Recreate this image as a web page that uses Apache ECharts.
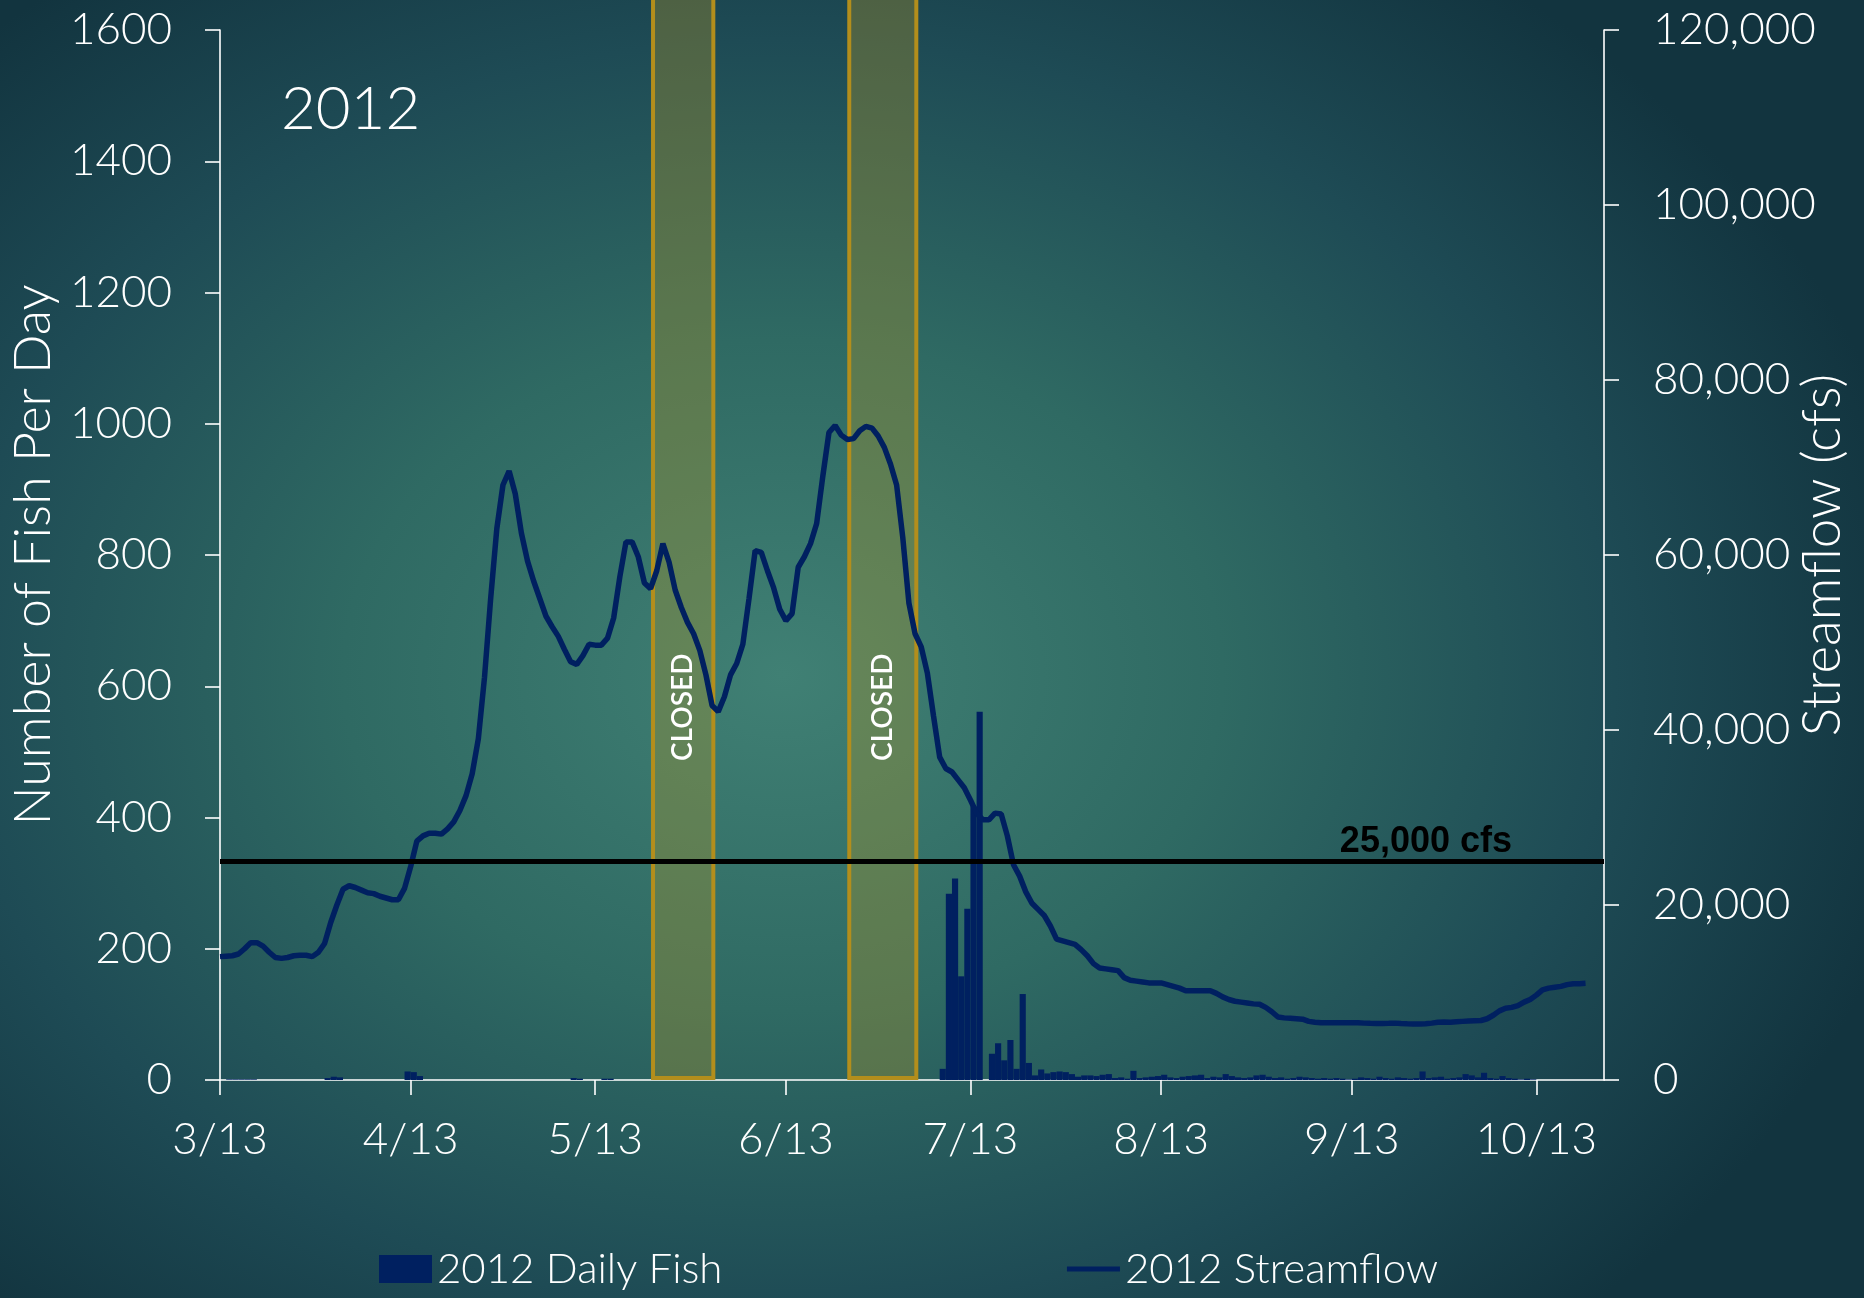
<!DOCTYPE html>
<html><head><meta charset="utf-8">
<script src="https://cdn.jsdelivr.net/npm/echarts@6/dist/echarts.min.js"></script>
<style>
html,body{margin:0;padding:0;width:1864px;height:1298px;overflow:hidden;background:#12343f;}
#c{width:1864px;height:1298px;background:radial-gradient(ellipse 62% 68% at 42% 52%, #408074 0%, #2f6a63 38%, #1e4b55 72%, #12343f 100%);}
</style></head><body><div id="c"></div>
<script>
// x positions are days counted from 3/13 (day 0)
const tickDays = [0, 31, 61, 92, 122, 153, 184, 214];
const tickLabels = ['3/13', '4/13', '5/13', '6/13', '7/13', '8/13', '9/13', '10/13'];

// 2012 Streamflow (cfs), one value per day starting 3/13
const streamflow = [
 14100,14150,14200,14400,15000,15700,15700,15300,14600,14000,
 13900,14000,14200,14250,14250,14100,14600,15600,18000,20000,
 21800,22200,22000,21700,21400,21300,21000,20800,20600,20600,
 21900,24400,27300,27900,28200,28200,28100,28700,29500,30800,
 32500,35000,39000,46000,55000,63000,68000,69600,67000,62500,
 59300,57000,55000,53000,51800,50700,49200,47800,47500,48500,
 49800,49700,49700,50500,52800,57500,61500,61500,59800,56800,
 56160,58200,61300,59200,56000,54000,52300,51000,49100,46300,
 42800,42100,43800,46300,47600,49800,55000,60500,60300,58200,
 56270,53800,52500,53300,58600,59800,61300,63600,69000,74000,
 74800,73700,73200,73300,74200,74700,74500,73600,72300,70400,
 68000,62000,54500,51000,49500,46500,41600,36900,35600,35200,
 34300,33400,32000,30500,29750,29730,30500,30400,27900,24600,
 23300,21500,20200,19500,18800,17600,16100,15900,15700,15500,
 14900,14200,13300,12800,12700,12600,12500,11700,11400,11300,
 11200,11100,11100,11100,10900,10700,10500,10200,10200,10200,
 10200,10200,9900,9500,9200,9000,8900,8800,8700,8650,
 8300,7800,7200,7100,7050,7000,6950,6700,6600,6550,
 6550,6550,6550,6540,6550,6550,6500,6480,6470,6470,
 6480,6500,6450,6420,6400,6400,6420,6500,6600,6640,
 6600,6650,6700,6750,6780,6800,7000,7400,7900,8200,
 8300,8500,8900,9200,9700,10300,10500,10600,10700,10900,
 11000,11000,11050
];

// 2012 Daily Fish, one value per day starting 3/13
const dailyFish = [
 0,1,1,1,1,1,0,0,0,0,
 0,0,0,0,0,0,0,3,5,4,
 0,0,0,0,0,0,0,0,0,0,
 13,12,6,0,0,0,0,0,0,0,
 0,0,0,0,0,0,0,0,0,0,
 0,0,0,0,0,0,0,3,2,0,
 0,0,2,2,0,0,0,0,0,0,
 0,0,0,0,0,0,0,0,0,0,
 0,0,0,0,0,0,0,0,0,0,
 0,0,0,0,0,0,0,0,0,0,
 0,0,0,0,0,0,0,0,0,0,
 0,0,0,0,0,0,0,17,284,307,
 158,261,417,561,0,40,56,30,61,17,
 131,26,7,16,10,12,13,12,9,5,
 7,7,6,8,9,3,4,2,14,3,
 4,5,6,8,4,3,5,6,7,8,
 3,5,4,9,6,4,3,4,7,8,
 5,3,4,2,3,5,4,3,2,3,
 2,3,2,1,2,4,3,2,5,3,
 2,4,3,2,3,13,3,4,5,2,
 3,4,9,7,4,11,3,2,6,3,
 2,1,2,1,0,0,0,0,0,0,
 0,0,0,0,0
];

// closed periods (day from 3/13)
const closedStart = [70.4, 102.3];
const closedEnd = [80.2, 113.2];
const closedLabel = 'CLOSED';
const thresholdCfs = 25000;
const thresholdLabel = '25,000 cfs';

const NAVY = '#002060';
const FONT = 'Lato';

const fishData = dailyFish.map((v, i) => [i + 0.5, v]);
const flowData = streamflow.map((v, i) => [i, v]);
const closedData = closedStart.map((s, i) => [s, closedEnd[i]]);

const chart = echarts.init(document.getElementById('c'), null, {renderer: 'canvas'});
const axisCommon = {
  axisLine: {show: true, onZero: false, lineStyle: {color: '#ffffff', width: 1.6}},
  axisTick: {show: true, length: 15, lineStyle: {color: '#ffffff', width: 1.6}},
  splitLine: {show: false}
};

chart.setOption({
  animation: false,
  backgroundColor: 'transparent',
  textStyle: {fontFamily: FONT},
  title: {
    text: '2012', left: 281, top: 80, padding: 0,
    textStyle: {color: '#ffffff', fontSize: 60, fontWeight: 300, fontFamily: FONT}
  },
  grid: {left: 220, right: 260, top: 30, bottom: 218, containLabel: false, outerBoundsMode: 'none'},
  legend: {
    left: 374, top: 1243, itemWidth: 53, itemHeight: 28, itemGap: 342,
    selectedMode: false,
    data: [
      {name: '2012 Daily Fish', icon: 'rect'},
      {name: '2012 Streamflow', itemStyle: {opacity: 0, borderWidth: 0}, lineStyle: {width: 5, color: NAVY}}
    ],
    textStyle: {color: '#ffffff', fontSize: 42, fontWeight: 300, fontFamily: FONT}
  },
  xAxis: Object.assign({}, axisCommon, {
    type: 'value', min: 0, max: 225,
    axisTick: {show: true, length: 15, customValues: tickDays, lineStyle: {color: '#ffffff', width: 1.6}},
    axisLabel: {
      customValues: tickDays, color: '#ffffff', fontSize: 44, fontWeight: 300, fontFamily: FONT, margin: 38,
      formatter: v => tickLabels[tickDays.indexOf(Math.round(v))] || ''
    }
  }),
  yAxis: [
    Object.assign({}, axisCommon, {
      type: 'value', min: 0, max: 1600, interval: 200, position: 'left',
      name: 'Number of Fish Per Day', nameLocation: 'middle', nameGap: 150,
      nameTextStyle: {color: '#ffffff', fontSize: 52, fontWeight: 300, fontFamily: FONT},
      axisLabel: {color: '#ffffff', fontSize: 44, fontWeight: 300, fontFamily: FONT, margin: 48,
        formatter: v => String(v)}
    }),
    Object.assign({}, axisCommon, {
      type: 'value', min: 0, max: 120000, interval: 20000, position: 'right',
      name: 'Streamflow (cfs)', nameLocation: 'middle', nameGap: 192, nameMoveOverlap: false,
      nameTextStyle: {color: '#ffffff', fontSize: 53, fontWeight: 300, fontFamily: FONT},
      axisLabel: {color: '#ffffff', fontSize: 44, fontWeight: 300, fontFamily: FONT, margin: 49,
        formatter: v => v.toLocaleString('en-US')}
    })
  ],
  series: [
    {
      name: '2012 Daily Fish', type: 'bar', yAxisIndex: 0, data: fishData,
      barWidth: '100%', itemStyle: {color: NAVY}
    },
    {
      name: '2012 Streamflow', type: 'line', yAxisIndex: 1, data: flowData,
      symbol: 'none', showSymbol: false,
      lineStyle: {color: NAVY, width: 5.5}, itemStyle: {color: NAVY},
      markLine: {
        silent: true, symbol: 'none',
        lineStyle: {color: '#000000', width: 5, type: 'solid'},
        label: {show: true, position: 'insideEndTop', formatter: thresholdLabel, color: '#000000',
          fontSize: 36, fontWeight: 'bold', fontFamily: 'Liberation Sans', padding: [0, 91, 0, 0], distance: 1},
        data: [{yAxis: thresholdCfs}]
      }
    },
    {
      name: 'closed', type: 'custom', yAxisIndex: 1, data: closedData, z: 3, clip: false,
      renderItem: (params, api) => {
        const p0 = api.coord([api.value(0), 0]);
        const p1 = api.coord([api.value(1), 0]);
        const pl = api.coord([api.value(0), 42600]);
        const cx = (p0[0] + p1[0]) / 2;
        return {
          type: 'group',
          children: [
            {type: 'rect', shape: {x: p0[0], y: -10, width: p1[0] - p0[0], height: p0[1] + 8},
             style: {fill: 'rgba(176,150,40,0.34)', stroke: '#b38e1c', lineWidth: 4}},
            {type: 'text', x: cx, y: pl[1], rotation: Math.PI / 2,
             style: {text: closedLabel, fill: '#ffffff', fontSize: 28, fontWeight: 600, fontFamily: FONT,
               align: 'center', verticalAlign: 'middle', textAlign: 'center', textVerticalAlign: 'middle'}}
          ]
        };
      }
    }
  ]
});
</script></body></html>
